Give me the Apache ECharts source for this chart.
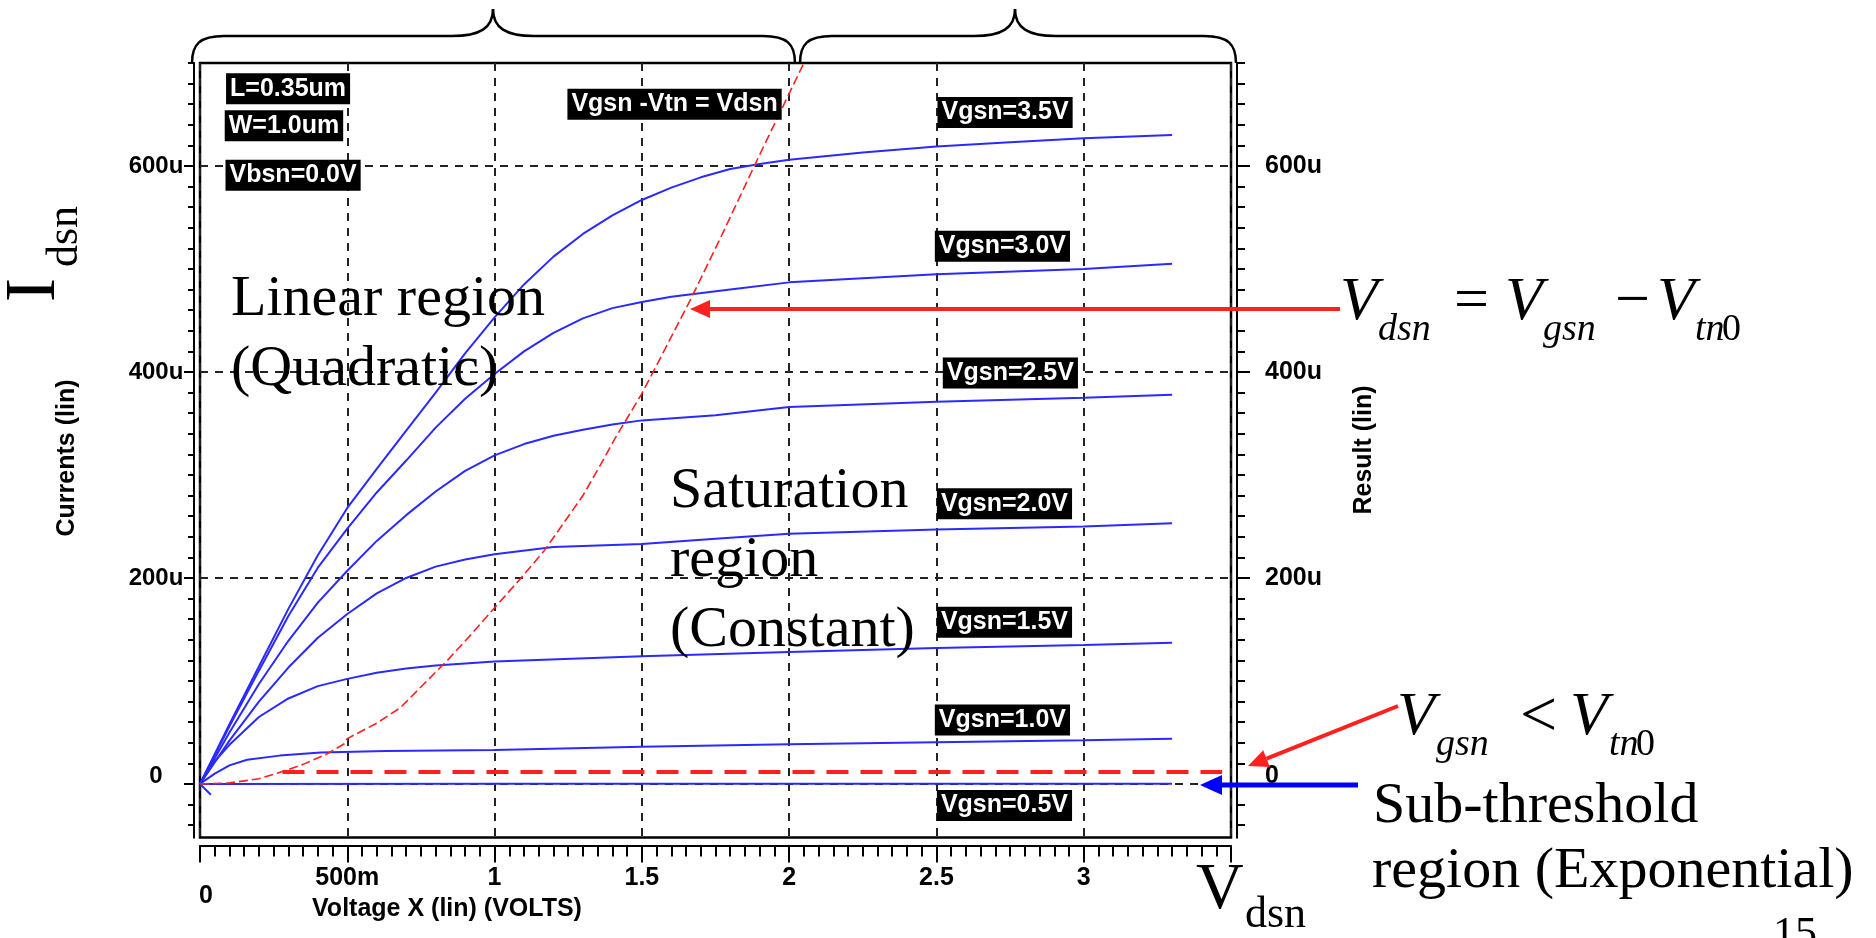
<!DOCTYPE html>
<html>
<head>
<meta charset="utf-8">
<script src="https://cdn.jsdelivr.net/npm/echarts@6/dist/echarts.min.js"></script>
<style>
html, body { margin: 0; padding: 0; background: #fff; }
#main { width: 1876px; height: 938px; }
</style>
</head>
<body>
<div id="main"></div>
<script>
// Ids (uA) vs Vds (V) for each gate step
var vgs35 = [[0,0],[0.1,58],[0.2,114],[0.3,170],[0.4,222],[0.5,268],[0.6,306],[0.7,343],[0.8,380],[0.9,418],[1.0,453],[1.1,485],[1.2,512],[1.3,534],[1.4,552],[1.5,567],[1.6,579],[1.7,589],[1.8,597],[1.9,602],[2.0,606],[2.25,613],[2.5,619],[2.75,623],[3.0,627],[3.3,630]];
var vgs30 = [[0,0],[0.1,56],[0.2,110],[0.3,163],[0.4,210],[0.5,248],[0.6,283],[0.7,314],[0.8,346],[0.9,374],[1.0,398],[1.1,420],[1.2,438],[1.3,452],[1.4,462],[1.5,468],[1.6,473],[1.8,480],[2.0,487],[2.5,495],[3.0,500],[3.3,505]];
var vgs25 = [[0,0],[0.1,50],[0.2,97],[0.3,139],[0.4,176],[0.5,207],[0.6,236],[0.7,261],[0.8,284],[0.9,304],[1.0,319],[1.1,330],[1.2,338],[1.3,344],[1.4,349],[1.5,353],[1.75,358],[2.0,366],[2.5,371],[3.0,375],[3.3,378]];
var vgs20 = [[0,0],[0.1,42],[0.2,80],[0.3,113],[0.4,142],[0.5,165],[0.6,185],[0.7,200],[0.8,211],[0.9,218],[1.0,223],[1.2,230],[1.5,233],[1.75,238],[2.0,243],[2.5,247],[3.0,250],[3.3,253]];
var vgs15 = [[0,0],[0.05,22],[0.1,38],[0.2,65],[0.3,83],[0.4,95],[0.5,102],[0.6,108],[0.7,112],[0.8,115],[1.0,119],[1.5,124],[2.0,128],[2.5,132],[3.0,135],[3.3,137]];
var vgs10 = [[0,0],[0.05,10],[0.1,18],[0.16,23.5],[0.27,27.5],[0.41,30.5],[0.63,32],[1.0,33],[1.5,36],[2.0,38.5],[2.5,40.5],[3.0,42.5],[3.3,44]];
var vgs05 = [[0,0],[1.0,0.1],[2.0,0.2],[3.3,0.3]];
var stub = [[0,0],[0.037,-10.5]];
// Vgsn - Vtn = Vdsn locus and the Vgsn < Vtn0 floor
var satEdge = [[0,0],[0.1,1],[0.2,5],[0.28,12],[0.35,19],[0.43,29],[0.49,39],[0.5,44],[0.6,59],[0.68,74],[0.76,97],[0.84,120],[0.92,145],[1.0,171],[1.09,200],[1.17,227],[1.3,280],[1.36,310],[1.41,336],[1.5,379],[1.58,423],[1.67,473],[1.77,532],[1.89,605],[2.05,700]];
var vtFloor = [[0.28,11.5],[3.47,11.5]];

var yMin = -52, yMax = 700;
var yMajor = [0, 200, 400, 600];
var yMinor = [];
for (var t = -40; t <= 700; t += 20) yMinor.push(t);
var xTickText = { '0': '0', '0.5': '500m', '1': '1', '1.5': '1.5', '2': '2', '2.5': '2.5', '3': '3', '3.5': '' };

// black tag boxes: text, Vds, Ids
var tagText = ['L=0.35um', 'W=1.0um', 'Vbsn=0.0V', 'Vgsn -Vtn = Vdsn', 'Vgsn=3.5V', 'Vgsn=3.0V', 'Vgsn=2.5V', 'Vgsn=2.0V', 'Vgsn=1.5V', 'Vgsn=1.0V', 'Vgsn=0.5V'];
var tagX = [0.299, 0.285, 0.316, 1.611, 2.733, 2.724, 2.751, 2.731, 2.731, 2.724, 2.731];
var tagY = [675, 639, 591, 660, 652, 522, 399, 272, 157, 62, -21];

var blue = '#2a2aff';
var red = '#ff2020';
var hsp = '"Liberation Sans", Arial, sans-serif';
var serif = '"Liberation Serif", "Times New Roman", serif';
var fs = 25;

var chart = echarts.init(document.getElementById('main'));

function curve(data) {
  return { type: 'line', data: data, symbol: 'none', silent: true,
    lineStyle: { color: blue, width: 2 }, z: 4 };
}

function yAx(pos, major) {
  var left = pos === 'left';
  return {
    type: 'value', position: pos, min: yMin, max: yMax, offset: 6,
    axisLine: { show: true, onZero: false, lineStyle: { color: '#000', width: 2 } },
    axisTick: { show: true, inside: false, length: major ? (left ? 10 : 13) : (left ? 6 : 8),
      customValues: major ? yMajor : yMinor, lineStyle: { color: '#000', width: 2 } },
    axisLabel: { show: major, customValues: yMajor, margin: left ? 38 : 28, align: left ? 'center' : 'left',
      color: '#000', fontFamily: hsp, fontWeight: 'bold', fontSize: left ? 24 : fs,
      formatter: function (v) { return v === 0 ? '{z|0}' : v + 'u'; },
      rich: { z: { fontFamily: hsp, fontWeight: 'bold', fontSize: left ? 24 : fs, padding: [0, 0, 16, 0] } } },
    splitLine: { show: major && left, lineStyle: { type: [8, 7], color: '#222', width: 2 } }
  };
}

// text with baseline at (x, base)
function txt(s, x, base, size, o) {
  o = o || {};
  return { type: 'text', x: x, y: base - 0.34 * size, silent: true, z: 20,
    style: { text: s, fill: o.fill || '#000', font: (o.italic ? 'italic ' : '') + (o.bold ? 'bold ' : '') + size + 'px ' + (o.family || serif),
      align: o.align || 'left', verticalAlign: 'middle' } };
}

function arrow(x1, y1, x2, y2, color, w, hl, hw) {
  var a = Math.atan2(y2 - y1, x2 - x1);
  var bx = x2 - hl * Math.cos(a), by = y2 - hl * Math.sin(a);
  var px = -Math.sin(a) * hw, py = Math.cos(a) * hw;
  return [
    { type: 'line', silent: true, z: 20, shape: { x1: x1, y1: y1, x2: bx, y2: by }, style: { stroke: color, lineWidth: w } },
    { type: 'polygon', silent: true, z: 20, shape: { points: [[x2, y2], [bx + px, by + py], [bx - px, by - py]] }, style: { fill: color } }
  ];
}

// curly brace from x0 to x1 with its tip at xp
function brace(x0, xp, x1) {
  var st = { stroke: '#000', lineWidth: 2.5, fill: null };
  function bz(a, b, c, d) {
    return { type: 'bezierCurve', silent: true, z: 20, style: st,
      shape: { x1: a[0], y1: a[1], cpx1: b[0], cpy1: b[1], cpx2: c[0], cpy2: c[1], x2: d[0], y2: d[1] } };
  }
  function ln(xa, xb) {
    return { type: 'line', silent: true, z: 20, style: st, shape: { x1: xa, y1: 36, x2: xb, y2: 36 } };
  }
  return [
    bz([x0, 63], [x0, 44], [x0 + 8, 36], [x0 + 32, 36]),
    ln(x0 + 32, xp - 41),
    bz([xp - 41, 36], [xp - 13, 36], [xp, 28], [xp, 9]),
    bz([xp, 9], [xp, 28], [xp + 13, 36], [xp + 41, 36]),
    ln(xp + 41, x1 - 32),
    bz([x1 - 32, 36], [x1 - 8, 36], [x1, 44], [x1, 63])
  ];
}

var graphics = [
  txt('Linear region', 231, 319, 58),
  txt('(Quadratic)', 231, 389, 58),
  txt('Saturation', 670, 511, 58),
  txt('region', 670, 580, 58),
  txt('(Constant)', 670, 650, 58),
  txt('Sub-threshold', 1373, 826, 58),
  txt('region (Exponential)', 1372, 891, 58),
  txt('15', 1773, 950, 44),

  // V_dsn = V_gsn - V_tn0
  txt('V', 1340, 324, 62, { italic: true }),
  txt('dsn', 1378, 343, 38, { italic: true }),
  txt('=', 1454, 324, 62),
  txt('V', 1505, 324, 62, { italic: true }),
  txt('gsn', 1543, 343, 38, { italic: true }),
  txt('\u2212', 1615, 324, 62),
  txt('V', 1657, 324, 62, { italic: true }),
  txt('tn', 1695, 343, 38, { italic: true }),
  txt('0', 1722, 343, 38),

  // V_gsn < V_tn0
  txt('V', 1397, 739, 62, { italic: true }),
  txt('gsn', 1436, 758, 38, { italic: true }),
  txt('<', 1520, 741, 66),
  txt('V', 1570, 739, 62, { italic: true }),
  txt('tn', 1609, 758, 38, { italic: true }),
  txt('0', 1636, 758, 38),

  // V_dsn under the x axis
  txt('V', 1196, 913, 66),
  txt('dsn', 1245, 930, 44),

  // I_dsn, rotated
  { type: 'group', x: 0, y: 302, rotation: Math.PI / 2, silent: true, children: [
    txt('I', 0, 60, 72),
    txt('dsn', 35, 80, 44)
  ] },

  // awaves axis titles
  { type: 'text', x: 67, y: 458, rotation: Math.PI / 2, silent: true,
    style: { text: 'Currents (lin)', font: 'bold ' + fs + 'px ' + hsp, fill: '#000', align: 'center', verticalAlign: 'middle' } },
  { type: 'text', x: 1364, y: 450, rotation: Math.PI / 2, silent: true,
    style: { text: 'Result (lin)', font: 'bold ' + fs + 'px ' + hsp, fill: '#000', align: 'center', verticalAlign: 'middle' } },
  { type: 'text', x: 447, y: 909, silent: true,
    style: { text: 'Voltage X (lin) (VOLTS)', font: 'bold ' + fs + 'px ' + hsp, fill: '#000', align: 'center', verticalAlign: 'middle' } }
];
graphics = graphics.concat(
  brace(192, 493, 795),
  brace(800, 1015, 1236),
  arrow(1340, 309, 690, 309, red, 4, 20, 9),
  arrow(1398, 706, 1248, 766, red, 4, 20, 9),
  arrow(1358, 785, 1200, 785, '#0000ff', 5, 22, 10)
);

chart.setOption({
  animation: false,
  backgroundColor: '#fff',
  grid: { left: 200, top: 63, width: 1031, height: 774.5, show: true, borderColor: '#000', borderWidth: 2.5, backgroundColor: 'transparent' },
  xAxis: {
    type: 'value', min: 0, max: 3.5, interval: 0.5, position: 'bottom', offset: 8,
    axisLine: { onZero: false, lineStyle: { color: '#000', width: 2 } },
    axisTick: { length: 17, lineStyle: { color: '#000', width: 2 } },
    minorTick: { show: true, splitNumber: 10, length: 11, lineStyle: { color: '#000', width: 2 } },
    axisLabel: { margin: 20, color: '#000', fontFamily: hsp, fontWeight: 'bold', fontSize: fs,
      formatter: function (v) { return v === 0 ? '{low|0}' : xTickText[String(v)]; },
      rich: { low: { fontFamily: hsp, fontWeight: 'bold', fontSize: fs, padding: [18, 0, 0, 12] } } },
    splitLine: { show: true, lineStyle: { type: [8, 7], color: '#222', width: 2 } }
  },
  yAxis: [yAx('left', true), yAx('left', false), yAx('right', true), yAx('right', false)],
  series: [
    { type: 'line', data: vtFloor, symbol: 'none', silent: true, z: 3,
      lineStyle: { color: red, width: 4, type: [22, 12] } },
    { type: 'line', data: satEdge, symbol: 'none', silent: true, z: 5,
      lineStyle: { color: red, width: 1.6, type: [9, 4] } },
    curve(vgs35), curve(vgs30), curve(vgs25), curve(vgs20), curve(vgs15), curve(vgs10), curve(vgs05), curve(stub),
    { type: 'scatter', silent: true, z: 10, symbolSize: 1, itemStyle: { color: 'transparent', opacity: 1 },
      data: tagText.map(function (s, i) { return [tagX[i], tagY[i], s]; }),
      label: { show: true, position: 'inside', color: '#fff', backgroundColor: '#000',
        fontFamily: hsp, fontWeight: 'bold', fontSize: fs, padding: [4, 4, 2, 4],
        formatter: function (p) { return p.data[2]; } } }
  ],
  graphic: graphics
});
</script>
</body>
</html>
